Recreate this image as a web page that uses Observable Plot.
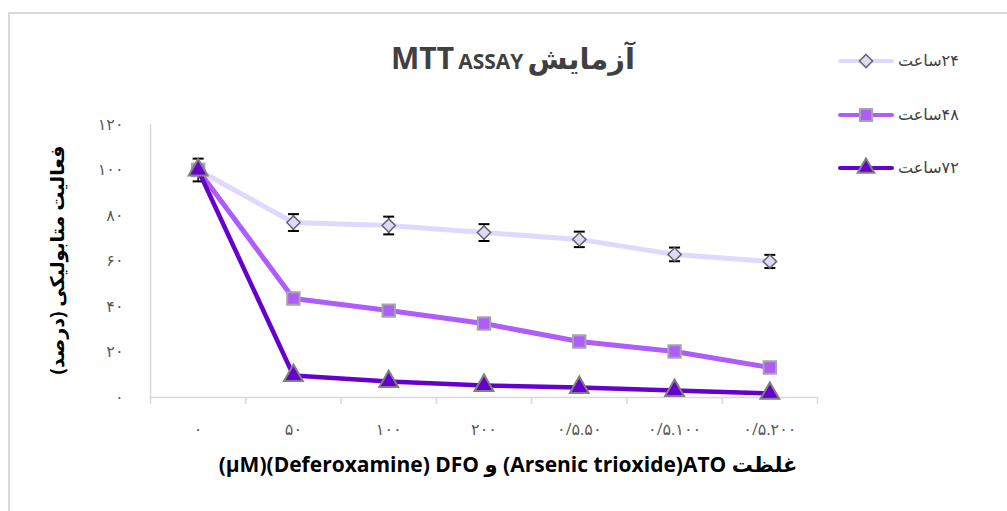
<!DOCTYPE html>
<html>
<head>
<meta charset="utf-8">
<script src="https://cdn.jsdelivr.net/npm/d3@7"></script>
<script src="https://cdn.jsdelivr.net/npm/@observablehq/plot@0.6"></script>
<style>
  body { margin:0; background:#fff; font-family:"Open Sans","DejaVu Sans",sans-serif; }
  #wrap { position:relative; width:1007px; height:511px; overflow:hidden; }
  #frame { position:absolute; left:8px; top:12px; width:1100px; height:600px; border-left:2px solid #d9d9d9; border-top:2px solid #d9d9d9; }
  #chart { position:absolute; left:0; top:0; }
  .lbl { position:absolute; white-space:nowrap; direction:ltr; }
  #title { left:0; width:1026px; top:37px; text-align:center; font-weight:bold; color:#404040; }
  #xlabel { left:0; width:1016px; top:450px; text-align:center; font-weight:bold; font-size:21px; color:#000; }
  #ylabel { left:57px; top:260px; transform:translate(-50%,-50%) rotate(-90deg); font-weight:bold; font-size:19px; color:#000; direction:rtl; }
  #legend { position:absolute; left:838px; top:48px; }
  .row { height:53.5px; display:flex; align-items:flex-start; }
  .row .t { font-size:16px; color:#404040; margin-left:4px; line-height:24px; display:flex; direction:ltr; }
  .row .t span { display:inline-block; }
</style>
</head>
<body>
<div id="wrap">
  <div id="frame"></div>
  <div id="chart"></div>
  <div id="title" class="lbl"><span style="font-size:30px">MTT</span> <span style="font-size:21px">ASSAY</span> <span style="font-size:29px">آزمایش</span></div>
  <div id="xlabel" class="lbl">(µM)(Deferoxamine) DFO و (Arsenic trioxide)ATO غلظت</div>
  <div id="ylabel" class="lbl">فعالیت متابولیکی (درصد)</div>
  <div id="legend"></div>
</div>
<script>
// ---- data ----
const categories = ["۰", "۵۰", "۱۰۰", "۲۰۰", "۰/۵.۵۰", "۰/۵.۱۰۰", "۰/۵.۲۰۰"];
const seriesHours = ["۲۴", "۴۸", "۷۲"];
const seriesWord = "ساعت";
const values24 = [100, 76.9, 75.6, 72.5, 69.5, 62.9, 59.8];
const errors24 = [5.0, 3.7, 3.9, 3.7, 3.4, 3.0, 2.9];
const values48 = [100, 43.5, 38.2, 32.5, 24.6, 20.2, 13.2];
const values72 = [100, 9.7, 7.0, 5.3, 4.4, 3.1, 1.8];
const yTicks = [0, 20, 40, 60, 80, 100, 120];
const yTickLabels = ["۰", "۲۰", "۴۰", "۶۰", "۸۰", "۱۰۰", "۱۲۰"];

const colors = { s24: "#E1D8FF", s48: "#AE5CFA", s72: "#6600CC" };

const idx = categories.map((_, i) => i);
const edges = d3.range(categories.length + 1).map(i => i - 0.5);
const d24 = idx.map(i => ({ i, v: values24[i], e: errors24[i] }));
const d48 = idx.map(i => ({ i, v: values48[i] }));
const d72 = idx.map(i => ({ i, v: values72[i] }));

const capSymbol = { draw(ctx, size) { const w = 5.5; ctx.moveTo(-w, 0); ctx.lineTo(w, 0); } };

const chart = Plot.plot({
  width: 1007, height: 511,
  marginLeft: 150, marginRight: 190, marginTop: 124, marginBottom: 114,
  style: { fontFamily: "'Open Sans','DejaVu Sans',sans-serif", background: "transparent" },
  x: { type: "linear", domain: [-0.5, categories.length - 0.5] },
  y: { domain: [0, 120] },
  marks: [
    Plot.ruleX([-0.5], { y1: 0, y2: 120, stroke: "#d9d9d9", strokeWidth: 1.5 }),
    Plot.ruleY([0], { stroke: "#d9d9d9", strokeWidth: 1.5 }),
    Plot.axisX(edges, { tickSize: 7, tickFormat: () => "", stroke: "#d9d9d9", strokeWidth: 1.5, label: null }),
    Plot.axisX(idx, { tickSize: 0, tickPadding: 26, tickFormat: i => categories[i], fontSize: 16, fill: "#595959", label: null }),
    Plot.axisY(yTicks, { tickSize: 0, tickPadding: 27, tickFormat: v => yTickLabels[yTicks.indexOf(v)], fontSize: 16, fill: "#595959", label: null }),
    Plot.line(d24, { x: "i", y: "v", stroke: colors.s24, strokeWidth: 5 }),
    Plot.ruleX(d24, { x: "i", y1: d => d.v - d.e, y2: d => d.v + d.e, stroke: "#000", strokeWidth: 1.5 }),
    Plot.dot(d24, { x: "i", y: d => d.v + d.e, symbol: capSymbol, stroke: "#000", strokeWidth: 2 }),
    Plot.dot(d24, { x: "i", y: d => d.v - d.e, symbol: capSymbol, stroke: "#000", strokeWidth: 2 }),
    Plot.dot(d24, { x: "i", y: "v", symbol: "diamond2", r: 6, fill: colors.s24, stroke: "#666", strokeWidth: 1.5 }),
    Plot.line(d48, { x: "i", y: "v", stroke: colors.s48, strokeWidth: 5 }),
    Plot.dot(d48, { x: "i", y: "v", symbol: "square", r: 7, fill: colors.s48, stroke: "#a6a6a6", strokeWidth: 2 }),
    Plot.line(d72, { x: "i", y: "v", stroke: colors.s72, strokeWidth: 4.5 }),
    Plot.dot(d72, { x: "i", y: "v", symbol: "triangle", r: 7, fill: colors.s72, stroke: "#808080", strokeWidth: 2 })
  ]
});
document.getElementById("chart").appendChild(chart);

// legend
const legendDefs = [
  { hours: seriesHours[0], color: colors.s24, symbol: d3.symbolDiamond2, fill: colors.s24, stroke: "#666", sw: 1.5, size: 110 },
  { hours: seriesHours[1], color: colors.s48, symbol: d3.symbolSquare, fill: colors.s48, stroke: "#a6a6a6", sw: 2, size: 150 },
  { hours: seriesHours[2], color: colors.s72, symbol: d3.symbolTriangle, fill: colors.s72, stroke: "#808080", sw: 2, size: 120 }
];
const legend = d3.select("#legend");
legendDefs.forEach(s => {
  const row = legend.append("div").attr("class", "row");
  const svg = row.append("svg").attr("width", 56).attr("height", 24);
  svg.append("line").attr("x1", 2).attr("x2", 54).attr("y1", 13).attr("y2", 13)
    .attr("stroke", s.color).attr("stroke-width", 4).attr("stroke-linecap", "round");
  svg.append("path").attr("transform", "translate(28,13)")
    .attr("d", d3.symbol(s.symbol, s.size)()).attr("fill", s.fill).attr("stroke", s.stroke).attr("stroke-width", s.sw);
  const t = row.append("div").attr("class", "t");
  t.append("span").text(seriesWord);
  t.append("span").text(s.hours);
});
</script>
</body>
</html>
